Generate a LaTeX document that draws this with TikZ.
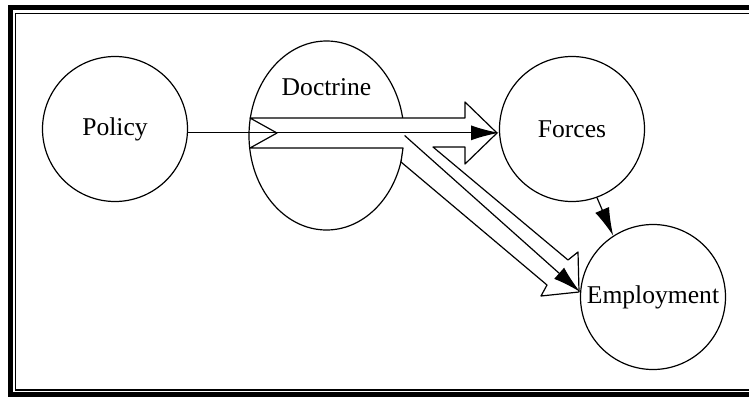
\documentclass[tikz,border=0pt]{standalone}
\usepackage{fontspec}
\setmainfont{Liberation Serif}
\usepackage{tkz-euclide}
\usetikzlibrary{arrows.meta,shapes.geometric}
\tikzset{>={Latex[length=14pt,width=7.5pt]}}
\tikzset{ball/.style={draw, circle, minimum size=72.5pt, inner sep=0pt}}

\begin{document}
\begin{tikzpicture}[x=0.5pt, y=-0.5pt, line width=0.6pt, font=\fontsize{12.8}{15}\selectfont]
\useasboundingbox (0,0) rectangle (749,396);
\clip (0,0) rectangle (749,396);
% frame
\draw[line width=2.5pt] (10.5,7.5) rectangle (760,394.5);
\draw[line width=0.75pt] (15.5,13.5) rectangle (760,390);
% nodes
\node[ball] (P) at (115,129) {Policy};
\node[draw, ellipse, minimum width=77.5pt, minimum height=94.5pt, inner sep=0pt,
  label={[anchor=center, yshift=-23.5pt]north:Doctrine}] (D) at (326.5,135.5) {};
\node[ball] (F) at (572,129) {Forces};
\node[ball] (E) at (653,297) {Employment};
% hollow arrows
\tkzDefPoints{250/118/t1, 277/133/n, 250/148/t2, 403/148/b1, 401/162/b2, 547/285/d1, 541/296/d2, 579/292/d3, 578/252/d4, 568/260/d5, 433/147/d6, 465/147/h1, 465/164/h2, 497/133/h3, 465/102/h4, 465/118/h5}
\tkzDrawPolygon[fill=white, line width=0.6pt](t1,n,t2,b1,b2,d1,d2,d3,d4,d5,d6,h1,h2,h3,h4,h5)
% connectors
\draw[->] (P.-3) -- (F.183);
\draw[->] (D.east) -- (E.176);
\draw[->] (F.290) -- (E.123);
\end{tikzpicture}
\end{document}
